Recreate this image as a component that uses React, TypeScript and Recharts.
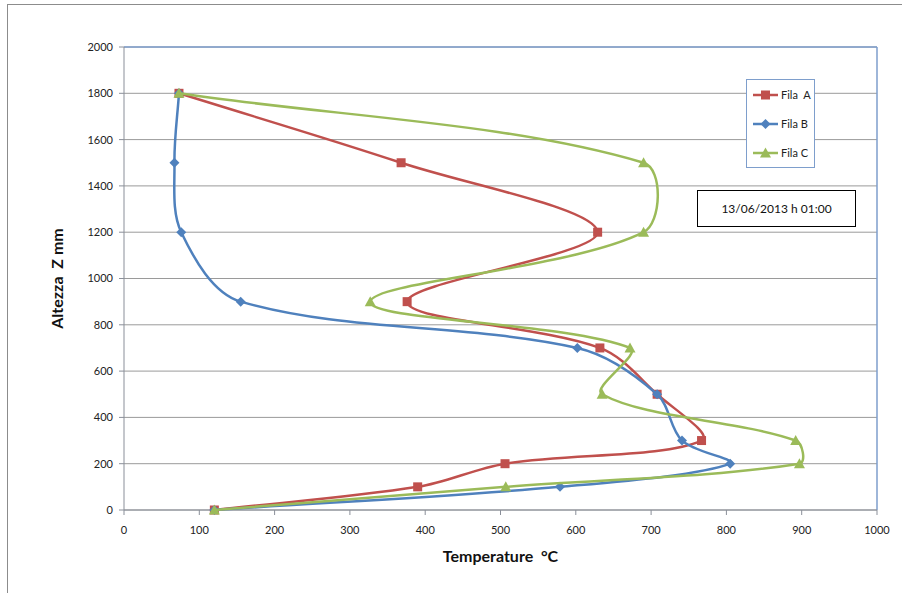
import React from "react";
import {
  ScatterChart,
  Scatter,
  XAxis,
  YAxis,
  CartesianGrid,
  ReferenceLine,
  Legend,
} from "recharts";

const heights = [0, 100, 200, 300, 500, 700, 900, 1200, 1500, 1800];
const filaA = [120, 390, 506, 767, 708, 632, 376, 629, 368, 73];
const filaB = [120, 579, 805, 741, 708, 602, 155, 76, 67, 73];
const filaC = [120, 507, 897, 892, 635, 672, 327, 690, 690, 73];
const xTicks = [0, 100, 200, 300, 400, 500, 600, 700, 800, 900, 1000];
const yTicks = [0, 200, 400, 600, 800, 1000, 1200, 1400, 1600, 1800, 2000];

const RED = "#C0504D";
const BLUE = "#4F81BD";
const GREEN = "#9BBB59";
const FONT = "Lato, 'Open Sans', sans-serif";

const toPoints = (xs: number[]) => heights.map((h, i) => ({ t: xs[i], z: h }));

// excel-style smoothing: catmull-rom tangents scaled by neighbouring segment lengths
function excelSmooth(context: any) {
  let pts: [number, number][] = [];
  const dist = (a: [number, number], b: [number, number]) => Math.hypot(b[0] - a[0], b[1] - a[1]);
  return {
    areaStart() {},
    areaEnd() {},
    lineStart() {
      pts = [];
    },
    point(x: number, y: number) {
      pts.push([+x, +y]);
    },
    lineEnd() {
      if (!pts.length) return;
      context.moveTo(pts[0][0], pts[0][1]);
      for (let i = 0; i < pts.length - 1; i++) {
        const p0 = pts[i - 1] || pts[i];
        const p1 = pts[i];
        const p2 = pts[i + 1];
        const p3 = pts[i + 2] || p2;
        const d01 = dist(p0, p1);
        const d12 = dist(p1, p2);
        const d23 = dist(p2, p3);
        const f1 = d01 + d12 > 0 ? d12 / (3 * (d01 + d12)) : 0;
        const f2 = d12 + d23 > 0 ? d12 / (3 * (d12 + d23)) : 0;
        context.bezierCurveTo(
          p1[0] + (p2[0] - p0[0]) * f1,
          p1[1] + (p2[1] - p0[1]) * f1,
          p2[0] - (p3[0] - p1[0]) * f2,
          p2[1] - (p3[1] - p1[1]) * f2,
          p2[0],
          p2[1]
        );
      }
    },
  };
}

const SquareDot = ({ cx, cy }: any) => (
  <rect x={cx - 4.5} y={cy - 4.5} width={9} height={9} fill={RED} />
);
const DiamondDot = ({ cx, cy }: any) => (
  <polygon
    points={`${cx},${cy - 5} ${cx + 5},${cy} ${cx},${cy + 5} ${cx - 5},${cy}`}
    fill={BLUE}
  />
);
const TriangleDot = ({ cx, cy }: any) => (
  <polygon
    points={`${cx},${cy - 5.5} ${cx + 5.5},${cy + 4.5} ${cx - 5.5},${cy + 4.5}`}
    fill={GREEN}
  />
);

const legendItems = [
  { name: "Fila  A", color: RED, Dot: SquareDot },
  { name: "Fila B", color: BLUE, Dot: DiamondDot },
  { name: "Fila C", color: GREEN, Dot: TriangleDot },
];

const LegendBox = () => (
  <div
    style={{
      width: 69,
      height: 89,
      border: "1px solid #7E9ECC",
      background: "#fff",
      boxSizing: "border-box",
      paddingTop: 0,
    }}
  >
    {legendItems.map(({ name, color, Dot }) => (
      <div
        key={name}
        style={{ display: "flex", alignItems: "center", height: 29, fontFamily: FONT, fontSize: 11, color: "#222" }}
      >
        <svg width={28} height={12} style={{ marginLeft: 6 }}>
          <line x1={0} y1={6} x2={25} y2={6} stroke={color} strokeWidth={2.5} />
          <Dot cx={12.5} cy={6} />
        </svg>
        <span style={{ whiteSpace: "pre" }}>{name}</span>
      </div>
    ))}
  </div>
);

export default function App() {
  return (
    <div style={{ position: "absolute", left: 0, top: 0, width: 902, height: 593, background: "#fff", fontFamily: FONT }}>
      <div
        style={{
          position: "absolute",
          left: 7,
          top: 4,
          width: 960,
          height: 640,
          borderTop: "1px solid #8c8c8c",
          borderLeft: "1px solid #8c8c8c",
        }}
      />
      <ScatterChart
        width={902}
        height={593}
        margin={{ top: 47, right: 25, bottom: 53, left: 34 }}
        style={{ position: "absolute", left: 0, top: 0 }}
      >
        <CartesianGrid horizontal vertical={false} stroke="#9a9a9a" />
        <XAxis
          type="number"
          dataKey="t"
          domain={[0, 1000]}
          ticks={xTicks}
          interval={0}
          height={30}
          tickSize={5}
          tickMargin={11}
          stroke="#8a8f99"
          tick={{ fill: "#222", fontSize: 11, fontFamily: FONT }}
          label={{
            value: "Temperature\u00A0\u00A0°C",
            position: "bottom",
            offset: 11,
            style: { fontSize: 16, fontWeight: "bold", fill: "#111", fontFamily: FONT },
          }}
        />
        <YAxis
          type="number"
          dataKey="z"
          domain={[0, 2000]}
          ticks={yTicks}
          interval={0}
          width={90}
          tickSize={5}
          tickMargin={6}
          stroke="#8a8f99"
          tick={{ fill: "#222", fontSize: 11, fontFamily: FONT }}
          label={{
            value: "Altezza\u00A0\u00A0Z\u00A0mm",
            angle: -90,
            position: "insideLeft",
            offset: 23,
            style: { fontSize: 16, fontWeight: "bold", fill: "#111", fontFamily: FONT, textAnchor: "middle" },
          }}
        />
        <ReferenceLine y={2000} stroke="#7E9ECC" strokeWidth={1.5} />
        <ReferenceLine x={1000} stroke="#7E9ECC" strokeWidth={1.5} />
        <Legend
          layout="vertical"
          align="center"
          verticalAlign="middle"
          content={() => <LegendBox />}
          wrapperStyle={{ position: "absolute", left: 746, top: 79, width: 69, height: 89 }}
        />
        <Scatter
          name="Fila  A"
          data={toPoints(filaA)}
          fill={RED}
          line={{ stroke: RED, strokeWidth: 2.5 }}
          lineJointType={excelSmooth as any}
          shape={SquareDot}
          isAnimationActive={false}
        />
        <Scatter
          name="Fila B"
          data={toPoints(filaB)}
          fill={BLUE}
          line={{ stroke: BLUE, strokeWidth: 2.5 }}
          lineJointType={excelSmooth as any}
          shape={DiamondDot}
          isAnimationActive={false}
        />
        <Scatter
          name="Fila C"
          data={toPoints(filaC)}
          fill={GREEN}
          line={{ stroke: GREEN, strokeWidth: 2.5 }}
          lineJointType={excelSmooth as any}
          shape={TriangleDot}
          isAnimationActive={false}
        />
      </ScatterChart>
      <div
        style={{
          position: "absolute",
          left: 697,
          top: 190,
          width: 159,
          height: 37,
          boxSizing: "border-box",
          border: "1px solid #000",
          background: "#fff",
          display: "flex",
          alignItems: "center",
          justifyContent: "center",
          fontSize: 12,
          color: "#111",
          fontFamily: FONT,
        }}
      >
        13/06/2013 h 01:00
      </div>
    </div>
  );
}
